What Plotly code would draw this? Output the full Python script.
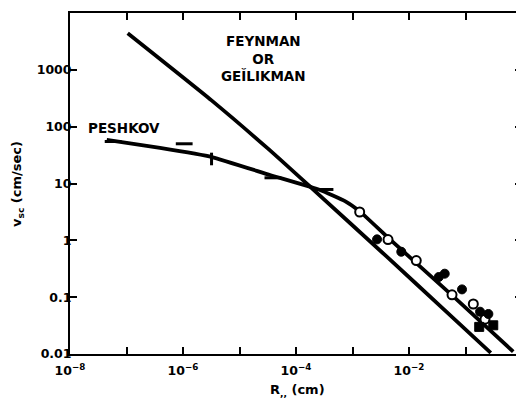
import plotly.graph_objects as go

# Theory curves
feynman_r = [1.05e-7, 3.2e-6, 3.2e-5, 2.0e-4, 4.0e-3, 0.04, 0.28]
feynman_v = [4400, 290, 41, 7.9, 0.52, 0.063, 0.0105]

peshkov_curve_r = [4.47e-8, 3.92e-7, 3.26e-6, 3.47e-5, 2.66e-4, 7.36e-4, 1.36e-3, 4.25e-3, 0.0679, 0.70]
peshkov_curve_v = [58.3, 42.2, 29.2, 14.1, 7.69, 4.9, 3.2, 1.12, 0.093, 0.011]

# Peshkov data (dash markers)
peshkov_dash_r = [5.8e-8, 1.05e-6, 3.9e-5, 3.26e-4]
peshkov_dash_v = [54.8, 50, 12.6, 7.85]
peshkov_bar_r = [3.2e-6]
peshkov_bar_v = [27]

# Experimental points
open_r = [1.34e-3, 4.25e-3, 0.01345, 0.0577, 0.1375, 0.221]
open_v = [3.15, 1.03, 0.44, 0.11, 0.0758, 0.041]
filled_r = [2.72e-3, 7.3e-3, 0.0336, 0.0429, 0.0867, 0.181, 0.254]
filled_v = [1.04, 0.63, 0.226, 0.259, 0.137, 0.0555, 0.0506]
square_r = [0.175, 0.31]
square_v = [0.030, 0.032]

x_tickvals = [1e-8, 1e-6, 1e-4, 1e-2, 1]
x_ticktext = ["10<sup>\u22128</sup>", "10<sup>\u22126</sup>", "10<sup>\u22124</sup>",
              "10<sup>\u22122</sup>", "1"]
x_minorvals = [1e-7, 1e-5, 1e-3, 1e-1]
y_tickvals = [0.01, 0.1, 1, 10, 100, 1000]
y_ticktext = ["0.01", "0.1", "1", "10", "100", "1000"]

FONT = "DejaVu Sans"
fig = go.Figure()

fig.add_trace(go.Scatter(x=feynman_r, y=feynman_v, mode="lines",
                         line=dict(color="black", width=3.8, shape="spline", smoothing=0.5)))
fig.add_trace(go.Scatter(x=peshkov_curve_r, y=peshkov_curve_v, mode="lines",
                         line=dict(color="black", width=3.8, shape="spline", smoothing=0.35)))
fig.add_trace(go.Scatter(x=peshkov_dash_r, y=peshkov_dash_v, mode="markers",
                         marker=dict(symbol="line-ew", size=12, line=dict(color="black", width=3))))
fig.add_trace(go.Scatter(x=peshkov_bar_r, y=peshkov_bar_v, mode="markers",
                         marker=dict(symbol="line-ns", size=9, line=dict(color="black", width=3))))
fig.add_trace(go.Scatter(x=open_r, y=open_v, mode="markers",
                         marker=dict(symbol="circle", size=9, color="white",
                                     line=dict(color="black", width=2))))
fig.add_trace(go.Scatter(x=filled_r, y=filled_v, mode="markers",
                         marker=dict(symbol="circle", size=9, color="black",
                                     line=dict(color="black", width=1))))
fig.add_trace(go.Scatter(x=square_r, y=square_v, mode="markers",
                         marker=dict(symbol="square", size=9, color="black",
                                     line=dict(color="black", width=1))))

axis_common = dict(type="log", showgrid=False, zeroline=False, showline=True,
                   linecolor="black", linewidth=2, mirror="allticks", automargin=False,
                   ticks="inside", ticklen=7, tickwidth=1.5, tickcolor="black",
                   tickfont=dict(family=FONT, size=12.5, color="black", weight="bold"))

fig.update_xaxes(range=[-8, 0], tickmode="array", tickvals=x_tickvals, ticktext=x_ticktext,
                 ticklabelstandoff=4,
                 minor=dict(tickmode="array", tickvals=x_minorvals, ticks="inside",
                            ticklen=7, tickwidth=1.5, tickcolor="black", showgrid=False),
                 **axis_common)
fig.update_yaxes(range=[-2, 4], tickmode="array", tickvals=y_tickvals, ticktext=y_ticktext,
                 ticklabelstandoff=-6, **axis_common)

# plot area spans page px x 70..522, y 13..354 (page has 8px body margin)
ann_font = dict(family=FONT, color="black", weight="bold")
fig.add_annotation(text="FEYNMAN<br>OR<br>GE\u01cfLIKMAN", xref="paper", yref="paper",
                   x=(263 - 70) / 452, y=(354 - 58) / 341, showarrow=False,
                   xanchor="center", yanchor="middle", font=dict(size=13.5, **ann_font))
fig.add_annotation(text="PESHKOV", xref="paper", yref="paper",
                   x=(123.5 - 70) / 452, y=(354 - 128) / 341, showarrow=False,
                   xanchor="center", yanchor="middle", font=dict(size=13.5, **ann_font))
fig.add_annotation(text="v<sub>sc</sub> (cm/sec)", xref="paper", yref="paper",
                   x=(17 - 70) / 452, y=(354 - 184) / 341, showarrow=False, textangle=-90,
                   xanchor="center", yanchor="middle", font=dict(size=13, **ann_font))
fig.add_annotation(text="R<sub>,,</sub> (cm)", xref="paper", yref="paper",
                   x=(297 - 70) / 452, y=(354 - 391) / 341, showarrow=False,
                   xanchor="center", yanchor="middle", font=dict(size=13, **ann_font))

fig.update_layout(width=516, height=394, showlegend=False,
                  margin=dict(l=62, r=2, t=5, b=48),
                  plot_bgcolor="white", paper_bgcolor="white")

fig.write_html("out.html")
